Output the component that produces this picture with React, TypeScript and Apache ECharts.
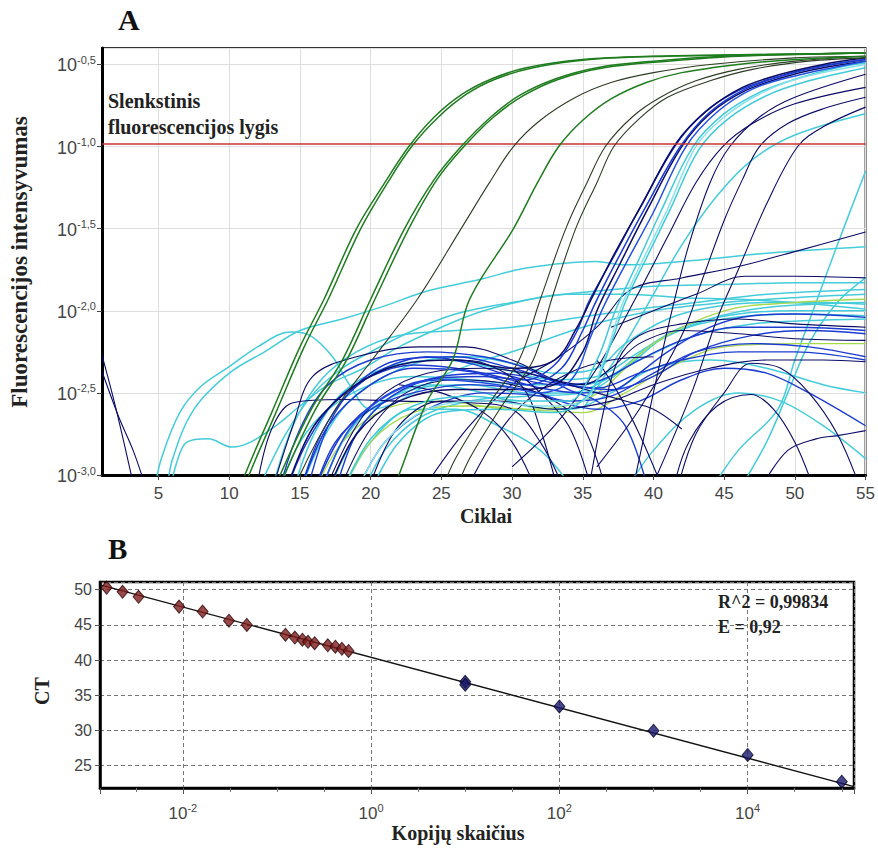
import { useEffect, useRef } from 'react';
import * as echarts from 'echarts';

type Pt = [number, number];

// ---------------- Panel A: amplification curves (cycle, log10 fluorescence) ----------------
const cycleRange: Pt = [1, 55];
const logFluorRange: Pt = [-3.0, -0.4];
const thresholdLog = -0.98;

const greenCurves: Pt[][] = [
  [[10.5,-3.15],[11.1,-3.0],[13,-2.62],[15,-2.22],[16.7,-1.93],[19,-1.5],[21,-1.22],[22.7,-1.0],[24.5,-0.82],[26.5,-0.68],[28.5,-0.59],[31,-0.52],[35,-0.47],[40,-0.45],[47,-0.44],[55,-0.43]],
  [[10.8,-3.15],[11.4,-3.0],[13.3,-2.62],[15.3,-2.22],[17,-1.93],[19.3,-1.5],[21.2,-1.22],[22.9,-1.0],[24.8,-0.82],[26.8,-0.68],[28.8,-0.59],[31.5,-0.52],[35.5,-0.47],[41,-0.45],[48,-0.44],[55,-0.43]],
  [[13,-3.15],[13.6,-3.0],[15.8,-2.6],[18,-2.3],[20,-1.93],[22.4,-1.5],[24.5,-1.2],[26.4,-1.0],[28.5,-0.82],[30.5,-0.69],[33,-0.59],[36,-0.52],[40,-0.48],[45,-0.45],[55,-0.43]],
  [[13.3,-3.15],[13.9,-3.0],[16.1,-2.6],[18.3,-2.3],[20.3,-1.93],[22.7,-1.5],[24.7,-1.2],[26.6,-1.0],[28.7,-0.82],[30.8,-0.69],[33.3,-0.59],[36.5,-0.52],[41,-0.48],[46,-0.45],[55,-0.43]],
  [[21.5,-3.1],[22,-3.0],[24,-2.55],[25.8,-2.3],[27,-1.93],[30.1,-1.5],[31.8,-1.22],[33.3,-1.0],[35,-0.84],[37,-0.71],[39.5,-0.61],[42,-0.55],[46,-0.5],[50,-0.47],[55,-0.45]],
];

const oliveCurves: Pt[][] = [
  [[14.5,-3.15],[15,-3.0],[17.5,-2.6],[20.1,-2.3],[23.3,-1.93],[26.4,-1.5],[28.4,-1.22],[30.1,-1.0],[32,-0.84],[34.5,-0.7],[37,-0.61],[40,-0.55],[44,-0.5],[50,-0.46],[55,-0.45]],
  [[25,-3.1],[26,-2.9],[28.5,-2.55],[30.5,-2.3],[32,-1.93],[33.8,-1.5],[35.3,-1.22],[36.6,-1.0],[38.5,-0.82],[40.5,-0.7],[43,-0.6],[46,-0.53],[50,-0.48],[55,-0.45]],
  [[26,-3.1],[27,-2.9],[29.5,-2.55],[31.5,-2.3],[32.8,-1.93],[34.5,-1.5],[36,-1.22],[37.2,-1.0],[39,-0.83],[41,-0.7],[44,-0.6],[47,-0.53],[51,-0.48],[55,-0.46]],
];

const clusterCurves: Pt[][] = [
  [[16,-3.1],[18,-2.75],[21,-2.52],[24,-2.42],[28,-2.4],[31,-2.42],[33,-2.33],[34.5,-2.14],[35.4,-1.95],[37,-1.7],[39,-1.38],[41.5,-1.0],[43.5,-0.8],[46,-0.66],[49,-0.57],[52,-0.51],[55,-0.47]],
  [[17,-3.1],[19,-2.75],[22,-2.55],[26,-2.48],[30,-2.48],[33,-2.45],[35,-2.25],[36,-2.0],[37.6,-1.72],[39.6,-1.38],[42,-1.0],[44,-0.8],[46.5,-0.66],[49.5,-0.57],[52,-0.52],[55,-0.48]],
  [[18,-3.1],[20,-2.78],[23,-2.58],[27,-2.52],[31,-2.55],[34,-2.55],[36,-2.3],[37.3,-2.0],[38.8,-1.72],[40.5,-1.4],[42.8,-1.0],[45,-0.8],[47.5,-0.67],[50,-0.59],[53,-0.52],[55,-0.49]],
  [[15,-3.1],[17,-2.7],[20,-2.45],[23,-2.35],[27,-2.37],[31,-2.45],[33.5,-2.35],[35,-2.12],[35.9,-1.95],[37.5,-1.68],[39.5,-1.36],[41.9,-1.0],[44,-0.79],[46.5,-0.65],[49.5,-0.56],[52,-0.51],[55,-0.47]],
  [[19,-3.1],[21,-2.8],[24,-2.6],[28,-2.55],[32,-2.58],[35,-2.55],[36.5,-2.3],[37.7,-1.98],[39.2,-1.7],[41,-1.38],[43,-1.0],[45,-0.82],[47.5,-0.68],[50.5,-0.58],[55,-0.5]],
  [[14,-3.1],[16,-2.7],[19,-2.45],[22,-2.33],[26,-2.3],[30,-2.35],[33,-2.3],[34.6,-2.1],[35.6,-1.93],[37.2,-1.66],[39.2,-1.35],[41.6,-0.98],[43.8,-0.78],[46.3,-0.64],[49,-0.56],[52,-0.5],[55,-0.46]],
  [[20,-3.1],[22,-2.8],[25,-2.62],[29,-2.6],[33,-2.62],[35.5,-2.5],[37,-2.2],[38,-1.95],[39.5,-1.68],[41.2,-1.38],[43.2,-1.02],[45.3,-0.83],[48,-0.69],[51,-0.6],[55,-0.52]],
  [[16.5,-3.1],[18.5,-2.72],[21.5,-2.5],[25,-2.42],[29,-2.45],[32,-2.5],[34.2,-2.42],[35.6,-2.15],[36.5,-1.97],[38,-1.72],[40,-1.4],[42.3,-1.0],[44.5,-0.79],[47,-0.65],[50,-0.57],[55,-0.48]],
];
const clusterColors = ['#1a3ad0', '#0b0b66', '#3fcad8', '#1a3ad0', '#86e2ec', '#0b0b66', '#3fcad8', '#2450e0'];

const cyanCurves: Pt[][] = [
  [[4.7,-3.1],[5.2,-2.9],[6.5,-2.62],[8,-2.46],[10,-2.34],[12,-2.22],[14.3,-2.13],[15.7,-2.15],[17.3,-2.28],[18.5,-2.45],[20,-2.6],[22,-2.55],[25,-2.4],[28,-2.3],[30,-2.25],[35,-2.1],[40,-2.0],[45,-1.95],[50,-1.92],[55,-1.9]],
  [[5.6,-3.1],[6,-2.9],[7.5,-2.6],[10,-2.38],[12.5,-2.25],[15,-2.12],[18,-2.05],[21,-1.97],[24,-1.88],[27.7,-1.81],[31,-1.74],[35.9,-1.7],[38,-1.72],[42,-1.7],[48,-1.65],[55,-1.61]],
  [[5.8,-3.1],[6.3,-2.92],[7,-2.8],[8.5,-2.78],[10.2,-2.83],[11.5,-2.8],[13.3,-2.7],[15,-2.58],[17,-2.45],[19.5,-2.35],[22,-2.22],[25,-2.1],[28,-2.0],[32,-1.92],[36,-1.88],[40,-1.85],[45,-1.84],[50,-1.83],[55,-1.83]],
  [[12,-3.1],[14,-2.75],[16,-2.5],[18,-2.35],[20,-2.25],[23,-2.12],[26,-2.02],[30,-1.95],[34,-1.9],[38,-1.9],[42,-1.92],[46,-1.93],[50,-1.95],[55,-1.99]],
  [[13.5,-3.1],[15,-2.8],[17,-2.6],[20,-2.45],[23,-2.4],[27,-2.42],[31,-2.45],[35,-2.45],[39,-2.3],[43,-2.15],[47,-2.08],[51,-2.06],[55,-2.05]],
  [[44,-3.1],[46,-2.85],[48.8,-2.6],[50,-2.3],[51.5,-1.95],[53,-1.6],[55,-1.15]],
  [[46,-3.1],[48,-2.8],[49.5,-2.5],[51,-2.2],[53,-1.95],[55,-1.8]],
  [[15,-3.1],[16.5,-2.8],[18.5,-2.55],[21,-2.4],[24,-2.3],[27,-2.28],[30,-2.32],[33,-2.38],[36,-2.35],[38,-2.2],[41,-2.05],[44,-1.98],[48,-1.95],[52,-1.95],[55,-1.96]],
  [[17,-3.1],[19,-2.75],[21,-2.55],[24,-2.45],[28,-2.5],[31,-2.58],[34,-2.6],[37,-2.5],[40,-2.35],[44,-2.3],[48,-2.35],[52,-2.45],[55,-2.5]],
  [[18,-3.1],[20,-2.8],[23,-2.6],[26,-2.6],[29,-2.7],[32,-2.85],[34,-3.05]],
  [[38,-3.1],[40,-2.85],[43,-2.6],[46,-2.5],[49,-2.55],[52,-2.7],[55,-2.9]],
  [[35,-2.6],[38,-2.2],[40,-1.9],[42,-1.6],[44.5,-1.3],[47,-1.08],[50,-0.93],[55,-0.8]],
  [[14.5,-3.1],[16,-2.75],[18,-2.5],[21,-2.35],[25,-2.3],[29,-2.35],[33,-2.42],[36,-2.4],[39,-2.25],[42,-2.1],[46,-2.02],[50,-2.0],[55,-2.0]],
  [[16.5,-3.1],[18,-2.8],[20,-2.6],[23,-2.48],[27,-2.45],[31,-2.5],[34,-2.5],[37,-2.4],[40,-2.2],[44,-2.05],[48,-1.98],[55,-1.95]],
  [[19.5,-3.1],[21,-2.85],[23.5,-2.65],[27,-2.55],[31,-2.52],[35,-2.5],[38,-2.35],[41,-2.15],[45,-2.05],[50,-2.02],[55,-2.03]],
  [[13,-3.1],[14.5,-2.7],[16.5,-2.42],[19,-2.25],[22,-2.15],[26,-2.12],[30,-2.1],[34,-2.05],[38,-2.0],[43,-1.95],[48,-1.9],[55,-1.87]],
];

const yellowCurves: Pt[][] = [
  [[16,-3.1],[18,-2.8],[21,-2.6],[25,-2.55],[30,-2.6],[35,-2.55],[40,-2.2],[45,-2.0],[50,-1.95],[55,-1.93]],
  [[18,-3.1],[20,-2.8],[23,-2.62],[27,-2.58],[31,-2.6],[35,-2.62],[38,-2.5],[41,-2.35],[45,-2.22],[50,-2.2],[55,-2.2]],
];

const blueCurves: Pt[][] = [
  [[14,-3.1],[15.5,-2.8],[17.5,-2.55],[20,-2.4],[23,-2.33],[26,-2.35],[29,-2.4],[32,-2.47],[35,-2.5],[37.3,-2.48],[39,-2.38],[41,-2.25],[44,-2.1],[47,-2.03],[50,-2.02],[55,-2.04]],
  [[15,-3.1],[16.5,-2.75],[18.5,-2.5],[21,-2.35],[24,-2.28],[27,-2.32],[30,-2.4],[33,-2.45],[36,-2.43],[39,-2.3],[42,-2.18],[46,-2.1],[50,-2.1],[55,-2.12]],
  [[16,-3.1],[17.5,-2.8],[20,-2.6],[23,-2.5],[27,-2.45],[31,-2.48],[34,-2.55],[37,-2.52],[40,-2.38],[43,-2.25],[47,-2.2],[51,-2.22],[55,-2.28]],
  [[19,-3.1],[21,-2.8],[24,-2.6],[28,-2.5],[32,-2.52],[36,-2.6],[39,-2.55],[42,-2.42],[45,-2.35],[48,-2.38],[51,-2.5],[55,-2.7]],
  [[15.5,-3.1],[17,-2.7],[19,-2.45],[22,-2.3],[26,-2.28],[30,-2.35],[34,-2.45],[37,-2.48],[40,-2.4],[43,-2.25],[47,-2.15],[51,-2.12],[55,-2.14]],
  [[17.5,-3.1],[19,-2.75],[21.5,-2.52],[25,-2.4],[29,-2.38],[33,-2.44],[36,-2.47],[39,-2.38],[42,-2.3],[46,-2.25],[50,-2.25],[55,-2.3]],
  [[13.5,-3.1],[15,-2.72],[17,-2.45],[20,-2.3],[24,-2.25],[28,-2.28],[31,-2.35],[34,-2.48],[36,-2.55],[38,-2.7],[39.5,-3.05]],
];

const navyCurves: Pt[][] = [
  [[1,-2.27],[2,-2.6],[3.2,-3.05]],
  [[1,-2.37],[2.2,-2.65],[3.2,-2.85],[4,-3.05]],
  [[12,-3.05],[13,-2.72],[14.5,-2.56],[18,-2.54],[22,-2.55],[27,-2.56],[30,-2.6],[32,-2.8],[33.5,-3.05]],
  [[13,-3.1],[14.5,-2.7],[15.9,-2.4],[19,-2.28],[23.4,-2.22],[26.7,-2.22],[30,-2.3],[33,-2.42],[36,-2.5],[38,-2.55],[40,-2.6],[42,-2.72]],
  [[30,-2.95],[33,-2.7],[36,-2.35],[38.7,-1.93],[41,-1.55],[43,-1.22],[44.9,-1.0],[47,-0.86],[50,-0.74],[55,-0.64]],
  [[38.5,-3.1],[39.5,-2.7],[40.5,-2.3],[41.5,-1.93],[42.5,-1.6],[44,-1.22],[45.4,-1.0],[47.5,-0.82],[50,-0.7],[55,-0.56]],
  [[36,-2.95],[39,-2.6],[42,-2.15],[43.5,-1.8],[45,-1.45],[46.3,-1.2],[47.5,-1.0],[49.5,-0.86],[52,-0.77],[55,-0.7]],
  [[40,-3.05],[42.7,-2.5],[44.5,-2.05],[46,-1.75],[48,-1.35],[50.2,-1.0],[52,-0.88],[55,-0.76]],
  [[24,-3.05],[27,-2.7],[30,-2.45],[33,-2.3],[36,-2.1],[38.4,-1.87],[42,-1.8],[46,-1.73],[50,-1.64],[55,-1.52]],
  [[37,-2.1],[40,-2.0],[43,-1.9],[46.5,-1.79],[50,-1.79],[55,-1.8]],
  [[41.8,-3.05],[43,-2.75],[45,-2.5],[46.9,-2.32],[49,-2.35],[51,-2.5],[53,-2.75],[54.5,-3.05]],
  [[41.5,-3.05],[42.5,-2.8],[44.5,-2.58],[46.9,-2.51],[48.5,-2.6],[50,-2.8],[51.2,-3.05]],
  [[47.8,-3.05],[49.5,-2.85],[51.5,-2.78],[53,-2.76],[55,-2.73]],
  [[26,-2.3],[28,-2.32],[30.7,-2.46],[32,-2.72],[33.1,-3.05]],
  [[17,-3.05],[19,-2.7],[21,-2.5],[24,-2.38],[28,-2.35],[31,-2.38],[35,-2.45],[37,-2.35],[39,-2.2],[42,-2.12],[46,-2.14],[50,-2.17],[55,-2.18]],
  [[20,-3.05],[22,-2.7],[25,-2.55],[29,-2.55],[33,-2.6],[37,-2.55],[40,-2.45],[44,-2.35],[48,-2.3],[52,-2.3],[55,-2.31]],
  [[35.5,-3.05],[36.5,-2.6],[37.5,-2.3],[39,-2.15],[42,-2.08],[46,-2.05],[50,-2.08],[55,-2.1]],
  [[22,-2.45],[25,-2.5],[28,-2.62],[30,-2.8],[31.5,-3.05]],
  [[27,-3.05],[29,-2.75],[31,-2.55],[34,-2.38],[37,-2.3],[40,-2.28]],
  [[30,-2.35],[32,-2.5],[34,-2.7],[35.5,-3.05]],
  [[36,-2.3],[37.5,-2.5],[39,-2.75],[40.5,-3.05]],
  [[18,-3.05],[20,-2.72],[22.5,-2.5],[26,-2.42],[30,-2.45],[33,-2.55],[35,-2.7],[36.5,-3.05]],
];

// ---------------- Panel B: standard curve (log10 copies, CT) ----------------
const logCopiesRange: Pt = [-2.88, 5.13];
const ctRange: Pt = [21.8, 51.1];
const unknownSamples: Pt[] = [
  [-2.81, 50.3], [-2.64, 49.7], [-2.47, 49.0], [-2.04, 47.6], [-1.79, 46.9], [-1.51, 45.6], [-1.32, 45.0],
  [-0.91, 43.6], [-0.81, 43.2], [-0.73, 42.9], [-0.67, 42.6], [-0.6, 42.4], [-0.46, 42.1], [-0.38, 41.9], [-0.31, 41.6], [-0.24, 41.3],
];
const standards: Pt[] = [[1.0, 36.9], [1.0, 36.5], [2.0, 33.4], [3.0, 29.95], [4.0, 26.5], [5.0, 22.7]];
const fitLine: Pt[] = [[-2.88, 50.7], [5.13, 22.0]];
const r2Text = 'R^2 = 0,99834';
const effText = 'E = 0,92';

const SERIF = '"Liberation Serif", "Times New Roman", serif';
const SANS = '"Liberation Sans", Arial, sans-serif';

export default function App() {
  const ref = useRef<HTMLDivElement>(null);
  useEffect(() => {
    if (!ref.current) return;
    const chart = echarts.init(ref.current, undefined, { renderer: 'svg' });

    const mk = (curves: Pt[][], colors: string | string[], width: number, z: number) =>
      curves.map((c, i) => ({
        type: 'line',
        xAxisIndex: 0,
        yAxisIndex: 0,
        data: c,
        showSymbol: false,
        symbol: 'none',
        smooth: 0.35,
        clip: true,
        silent: true,
        z,
        lineStyle: { color: Array.isArray(colors) ? colors[i % colors.length] : colors, width },
      }));

    const supRich = (size: number) => ({
      b: { fontSize: size, fontFamily: SANS, color: '#444', verticalAlign: 'bottom' },
      s: { fontSize: 11, fontFamily: SANS, color: '#444', verticalAlign: 'bottom', padding: [0, 0, 9, 0] },
    });

    chart.setOption({
      animation: false,
      backgroundColor: '#fff',
      grid: [
        { left: 102, top: 48, width: 765, height: 427, show: true, borderColor: '#333', borderWidth: 2, backgroundColor: 'transparent' },
        { left: 100, top: 582, width: 754, height: 206, show: true, borderColor: '#000', borderWidth: 2.5, backgroundColor: 'transparent' },
      ],
      xAxis: [
        {
          gridIndex: 0, type: 'value', min: cycleRange[0], max: cycleRange[1], splitNumber: 10,
          axisLine: { show: true, onZero: false, lineStyle: { color: '#000', width: 3 } },
          axisTick: { show: true, length: 5, lineStyle: { color: '#444' } },
          axisLabel: { showMinLabel: false, fontSize: 17, fontFamily: SANS, color: '#444', margin: 10 },
          splitLine: { show: true, lineStyle: { color: '#dedede', width: 1 } },
        },
        {
          gridIndex: 1, type: 'value', min: logCopiesRange[0], max: logCopiesRange[1], splitNumber: 4,
          axisLine: { show: true, onZero: false, lineStyle: { color: '#000', width: 2.5 } },
          axisTick: { show: true, length: 6, lineStyle: { color: '#555' } },
          minorTick: { show: true, splitNumber: 4, length: 4, lineStyle: { color: '#777' } },
          axisLabel: {
            showMinLabel: false, showMaxLabel: false, margin: 14,
            formatter: (v: number) => `{b|10}{s|${Math.round(v)}}`,
            rich: supRich(17),
          },
          splitLine: { show: true, lineStyle: { color: '#777', width: 1, type: [4, 3] } },
        },
      ],
      yAxis: [
        {
          gridIndex: 0, type: 'value', min: logFluorRange[0], max: logFluorRange[1], interval: 0.5,
          axisLine: { show: true, onZero: false, lineStyle: { color: '#000', width: 3 } },
          axisTick: { show: true, length: 5, lineStyle: { color: '#444' } },
          axisLabel: {
            showMaxLabel: false, margin: 6,
            formatter: (v: number) => `{b|10}{s|${v.toFixed(1).replace('.', ',')}}`,
            rich: supRich(18),
          },
          splitLine: { show: true, lineStyle: { color: '#dedede', width: 1 } },
        },
        {
          gridIndex: 1, type: 'value', min: ctRange[0], max: ctRange[1], splitNumber: 5,
          axisLine: { show: true, onZero: false, lineStyle: { color: '#000', width: 2.5 } },
          axisTick: { show: true, length: 5, lineStyle: { color: '#555' } },
          axisLabel: { showMinLabel: false, showMaxLabel: false, fontSize: 16, fontFamily: SANS, color: '#444', margin: 8 },
          splitLine: { show: true, lineStyle: { color: '#777', width: 1, type: [4, 3] } },
        },
      ],
      series: [
        ...mk(cyanCurves, '#45ccda', 1.5, 2),
        ...mk(yellowCurves, '#a6d94a', 1.3, 2),
        ...mk(blueCurves, '#1c3cd0', 1.4, 3),
        ...mk(navyCurves, '#0b0b66', 1.1, 3),
        ...mk(clusterCurves, clusterColors, 1.5, 4),
        ...mk(oliveCurves, '#2b3d22', 1.1, 5),
        ...mk(greenCurves, '#1f7d1f', 1.5, 5),
        {
          type: 'line', xAxisIndex: 0, yAxisIndex: 0, data: [], silent: true, z: 6,
          markLine: {
            silent: true, symbol: 'none', label: { show: false },
            lineStyle: { color: '#c83232', width: 1.5, type: 'solid' },
            data: [{ yAxis: thresholdLog }],
          },
        },
        {
          type: 'line', xAxisIndex: 1, yAxisIndex: 1, data: fitLine, symbol: 'none', silent: true, z: 2,
          lineStyle: { color: '#111', width: 1.3 },
        },
        {
          type: 'scatter', xAxisIndex: 1, yAxisIndex: 1, data: unknownSamples, symbol: 'diamond', symbolSize: [11, 13], z: 3,
          itemStyle: { color: '#7e1c1c', borderColor: '#2a0505', borderWidth: 1 },
        },
        {
          type: 'scatter', xAxisIndex: 1, yAxisIndex: 1, data: standards, symbol: 'diamond', symbolSize: [11, 13], z: 3,
          itemStyle: { color: '#18186a', borderColor: '#05052a', borderWidth: 1 },
        },
      ],
      graphic: [
        { type: 'text', left: 118, top: 4, style: { text: 'A', font: `bold 30px ${SERIF}`, fill: '#111' } },
        { type: 'text', left: 108, top: 534, style: { text: 'B', font: `bold 29px ${SERIF}`, fill: '#111' } },
        { type: 'text', left: 108, top: 91, z: 10, style: { text: 'Slenkstinis', font: `bold 20px ${SERIF}`, fill: '#222' } },
        { type: 'text', left: 108, top: 117, z: 10, style: { text: 'fluorescencijos lygis', font: `bold 20px ${SERIF}`, fill: '#222' } },
        {
          type: 'text', x: 19, y: 262, rotation: Math.PI / 2,
          style: { text: 'Fluorescencijos intensyvumas', font: `bold 23px ${SERIF}`, fill: '#222', align: 'center', verticalAlign: 'middle' },
        },
        { type: 'text', x: 486, y: 516, style: { text: 'Ciklai', font: `bold 20px ${SERIF}`, fill: '#222', align: 'center', verticalAlign: 'middle' } },
        {
          type: 'text', x: 42, y: 691, rotation: Math.PI / 2,
          style: { text: 'CT', font: `bold 20px ${SERIF}`, fill: '#222', align: 'center', verticalAlign: 'middle' },
        },
        { type: 'text', x: 458, y: 833, style: { text: 'Kopijų skaičius', font: `bold 20px ${SERIF}`, fill: '#222', align: 'center', verticalAlign: 'middle' } },
        { type: 'text', left: 718, top: 593, z: 10, style: { text: r2Text, font: `bold 18px ${SERIF}`, fill: '#222' } },
        { type: 'text', left: 718, top: 618, z: 10, style: { text: effText, font: `bold 18px ${SERIF}`, fill: '#222' } },
      ],
    });
    return () => chart.dispose();
  }, []);
  return <div ref={ref} style={{ position: 'absolute', left: 0, top: 0, width: 878, height: 849 }} />;
}
